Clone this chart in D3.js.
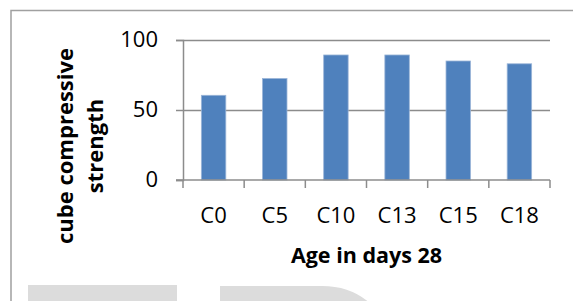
<!DOCTYPE html>
<html>
<head>
<meta charset="utf-8">
<script src="https://cdn.jsdelivr.net/npm/d3@7"></script>
<style>
  body { margin: 0; background: #ffffff; }
  svg { display: block; }
</style>
</head>
<body>
<div id="chart"></div>
<script>
// Chart data
var categories = ["C0", "C5", "C10", "C13", "C15", "C18"];
var strength = [60.5, 72.5, 89.3, 89.3, 85, 83];
var yTicks = [0, 50, 100];

var W = 573, H = 301;
var plot = {left: 183, right: 550, top: 40, bottom: 180};

var svg = d3.select("#chart")
  .append("svg")
  .attr("width", W)
  .attr("height", H);

// Outer frame
svg.append("rect")
  .attr("x", 11)
  .attr("y", 10.5)
  .attr("width", 600)
  .attr("height", 320)
  .attr("fill", "none")
  .attr("stroke", "#a0a0a0")
  .attr("stroke-width", 1.5);

// Watermark shapes at the bottom
svg.append("rect")
  .attr("x", 28)
  .attr("y", 285)
  .attr("width", 149)
  .attr("height", 30)
  .attr("fill", "#dcdcdc");

svg.append("path")
  .attr("d", "M220,286 L322,286 Q352,286 372,305 L372,310 L220,310 Z")
  .attr("fill", "#dcdcdc");

// Scales
var y = d3.scaleLinear()
  .domain([0, 100])
  .range([plot.bottom, plot.top]);

var x = d3.scaleBand()
  .domain(categories)
  .range([plot.left, plot.right])
  .paddingInner(0.6)
  .paddingOuter(0.3);

var edges = d3.scaleLinear()
  .domain([0, categories.length])
  .range([plot.left, plot.right]);

// Y axis with gridlines
svg.append("g")
  .attr("transform", "translate(" + plot.left + ",0)")
  .style("font", "22px 'Open Sans'")
  .call(d3.axisLeft(y).tickValues(yTicks).tickSize(7).tickPadding(18))
  .call(g => g.select(".domain").attr("stroke", "#8c8c8c").attr("stroke-width", 1.5))
  .call(g => g.selectAll(".tick line").attr("stroke", "#8c8c8c").attr("stroke-width", 1.5))
  .call(g => g.selectAll(".tick").filter(d => d > 0).append("line")
    .attr("x2", plot.right - plot.left)
    .attr("stroke", "#8c8c8c")
    .attr("stroke-width", 1.5))
  .call(g => g.selectAll(".tick text").attr("fill", "#000").attr("dy", "0.3em"));

// Bars
svg.selectAll(".bar")
  .data(categories)
  .enter()
  .append("rect")
  .attr("class", "bar")
  .attr("x", d => x(d))
  .attr("y", (d, i) => y(strength[i]))
  .attr("width", x.bandwidth())
  .attr("height", (d, i) => y(0) - y(strength[i]))
  .attr("fill", "#4f81bd")
  .attr("stroke", "#9bb5d8")
  .attr("stroke-width", 0.8);

// X axis line and tick marks at category edges
svg.append("line")
  .attr("x1", plot.left - 7)
  .attr("x2", plot.right)
  .attr("y1", y(0))
  .attr("y2", y(0))
  .attr("stroke", "#8c8c8c")
  .attr("stroke-width", 1.5);

svg.selectAll(".xtick")
  .data(d3.range(categories.length + 1))
  .enter()
  .append("line")
  .attr("class", "xtick")
  .attr("x1", d => edges(d))
  .attr("x2", d => edges(d))
  .attr("y1", y(0))
  .attr("y2", y(0) + 8)
  .attr("stroke", "#8c8c8c")
  .attr("stroke-width", 1.5);

// X tick labels
svg.selectAll(".xlabel")
  .data(categories)
  .enter()
  .append("text")
  .attr("class", "xlabel")
  .attr("x", d => x(d) + x.bandwidth() / 2)
  .attr("y", 223)
  .attr("text-anchor", "middle")
  .style("font", "22px 'Open Sans'")
  .attr("fill", "#000")
  .text(d => d);

// X title
svg.append("text")
  .attr("x", (plot.left + plot.right) / 2)
  .attr("y", 263)
  .attr("text-anchor", "middle")
  .style("font", "bold 21.5px 'Open Sans'")
  .attr("fill", "#000")
  .text("Age in days 28");

// Y title, two lines
var ytitle = svg.append("text")
  .attr("transform", "translate(0,146) rotate(-90)")
  .attr("text-anchor", "middle")
  .style("font", "bold 22px 'Open Sans'")
  .attr("fill", "#000");

ytitle.append("tspan").attr("x", 0).attr("y", 73).text("cube compressive");
ytitle.append("tspan").attr("x", 0).attr("y", 103).text("strength");
</script>
</body>
</html>
